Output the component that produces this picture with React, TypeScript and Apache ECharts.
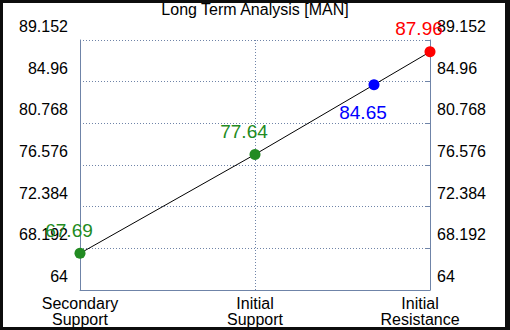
import React, { useEffect, useRef } from "react";
import * as echarts from "echarts";

const title = "Long Term Analysis [MAN]";
const categoryNames = ["Secondary\nSupport", "Initial\nSupport", "Initial\nResistance"];
const categoryX = [0, 1, 2];
const pointX = [0, 1, 1.68, 2];
const pointValues = [67.69, 77.64, 84.65, 87.96];
const pointColors = ["#228b22", "#228b22", "#0000ff", "#ff0000"];
const labelOffsets = [[-11, -23], [-11, -23], [-11, 28], [-11, -23]];
const yMin = 64;
const yMax = 89.152;
const yStep = 4.192;

const FONT = "'Liberation Sans', Arial, sans-serif";
const AXIS_COLOR = "#6f84a8";

function fmtY(v: number) {
  return String(Math.round(v * 1000) / 1000);
}

export default function App() {
  const ref = useRef<HTMLDivElement>(null);
  useEffect(() => {
    if (!ref.current) return;
    const chart = echarts.init(ref.current, null, { renderer: "svg" });
    const yCommon = {
      type: "value" as const,
      min: yMin,
      max: yMax,
      interval: yStep,
      axisLine: { show: true, lineStyle: { color: AXIS_COLOR, width: 1 } },
      axisLabel: {
        color: "#000",
        fontSize: 16,
        fontFamily: FONT,
        formatter: fmtY,
        verticalAlign: "bottom" as const,
        lineHeight: 27,
      },
    };
    chart.setOption({
      animation: false,
      backgroundColor: "#fff",
      title: {
        text: title,
        left: "center",
        top: 1,
        padding: 0,
        textStyle: { fontSize: 16, fontWeight: "normal", color: "#000", fontFamily: FONT },
      },
      grid: { left: 80, right: 80, top: 40, bottom: 40, containLabel: false },
      xAxis: {
        type: "value",
        min: categoryX[0],
        max: categoryX[categoryX.length - 1],
        interval: 1,
        axisLine: { show: true, lineStyle: { color: AXIS_COLOR, width: 1 } },
        axisTick: { show: false },
        splitLine: { show: true, lineStyle: { color: AXIS_COLOR, type: [1, 2], width: 1 } },
        axisLabel: {
          margin: 5,
          lineHeight: 16,
          fontSize: 16,
          color: "#000",
          fontFamily: FONT,
          formatter: (v: number) => {
            const i = categoryX.indexOf(Math.round(v));
            if (i < 0) return "";
            const name = categoryNames[i];
            if (i === categoryX.length - 1) {
              return name.split("\n").map((s) => `{r|${s}}`).join("\n");
            }
            return name;
          },
          rich: {
            r: { fontSize: 16, lineHeight: 16, color: "#000", fontFamily: FONT, padding: [0, 20, 0, 0] },
          },
        },
      },
      yAxis: [
        {
          ...yCommon,
          position: "left",
          axisTick: { show: false },
          splitLine: { show: true, lineStyle: { color: AXIS_COLOR, type: [1, 2], width: 1 } },
          axisLabel: { ...yCommon.axisLabel, margin: 12 },
        },
        {
          ...yCommon,
          position: "right",
          axisTick: { show: true, inside: true, length: 5, lineStyle: { color: AXIS_COLOR } },
          splitLine: { show: false },
          axisLabel: { ...yCommon.axisLabel, margin: 7 },
        },
      ],
      series: [
        {
          type: "line",
          yAxisIndex: 0,
          symbol: "circle",
          symbolSize: 11,
          lineStyle: { color: "#000", width: 1 },
          z: 3,
          data: pointX.map((x, i) => ({
            value: [x, pointValues[i]],
            itemStyle: { color: pointColors[i] },
            label: {
              show: true,
              position: "inside",
              offset: labelOffsets[i],
              color: pointColors[i],
              fontSize: 19,
              fontFamily: FONT,
              formatter: String(pointValues[i]),
            },
          })),
        },
      ],
    });
    return () => chart.dispose();
  }, []);
  return (
    <div style={{ position: "fixed", left: 0, top: 0, width: 510, height: 330, background: "#fff" }}>
      <div ref={ref} style={{ position: "absolute", left: 0, top: 0, width: 510, height: 330 }} />
      <div
        style={{
          position: "absolute",
          left: 0,
          top: 0,
          width: 510,
          height: 330,
          boxSizing: "border-box",
          borderStyle: "solid",
          borderColor: "#0d0d0d",
          borderWidth: "3px 5px 3px 3px",
          pointerEvents: "none",
        }}
      />
    </div>
  );
}
